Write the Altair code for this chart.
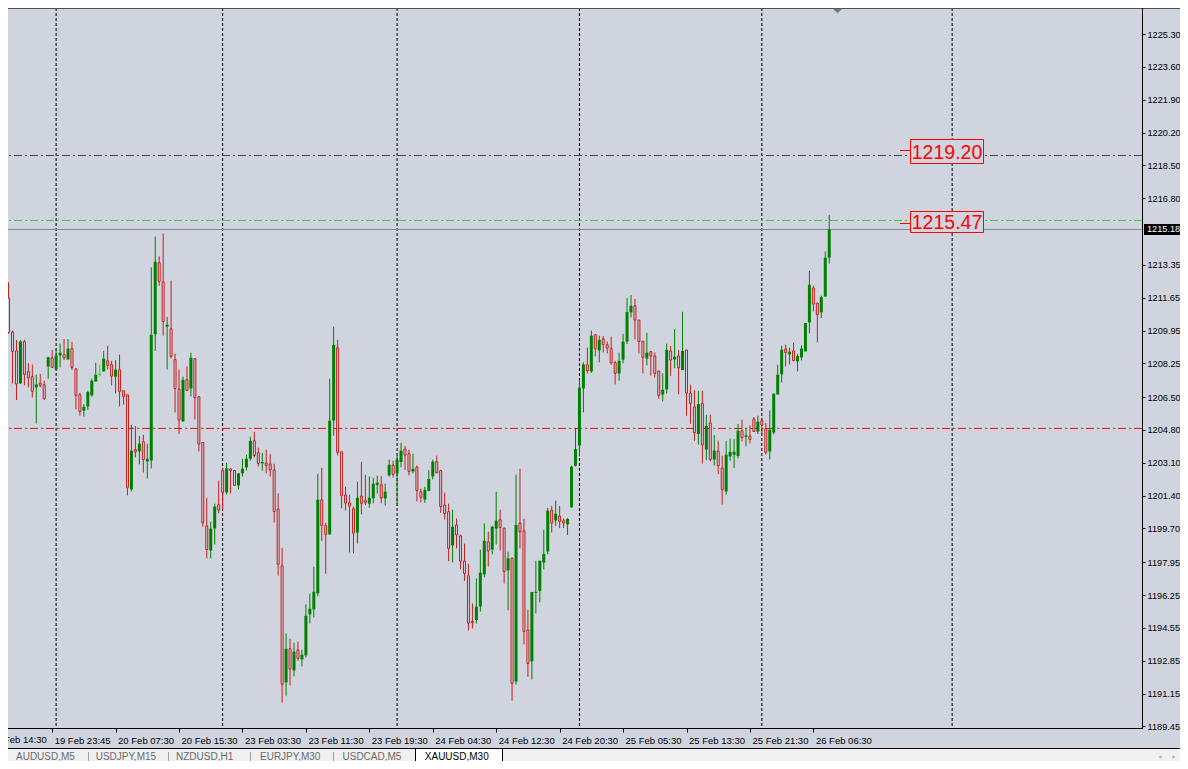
import altair as alt
import numpy as np
import pandas as pd

# ---------------- data (XAUUSD, M30) ----------------
first_bar = -1
opens = [1210.83, 1211.63, 1209.87, 1208.90, 1207.21, 1209.37, 1207.82, 1207.56, 1207.00, 1207.23,
         1207.14, 1208.09, 1208.54, 1207.93, 1208.66, 1208.70, 1208.45, 1209.01, 1207.97, 1206.62,
         1205.80, 1206.02, 1206.59, 1207.31, 1207.68, 1207.83, 1208.38, 1208.18, 1207.56, 1207.92,
         1206.83, 1206.62, 1201.72, 1203.78, 1203.69, 1204.19, 1203.17, 1203.22, 1209.75, 1213.46,
         1212.47, 1210.15, 1210.04, 1208.44, 1206.92, 1205.24, 1207.40, 1206.95, 1208.49, 1206.52,
         1204.15, 1199.83, 1198.56, 1199.70, 1200.93, 1202.69, 1201.57, 1202.78, 1202.70, 1201.93,
         1202.55, 1202.86, 1203.31, 1204.24, 1203.62, 1203.07, 1203.09, 1203.04, 1202.73, 1200.70,
         1197.77, 1191.73, 1193.47, 1192.35, 1193.41, 1192.92, 1193.13, 1195.25, 1195.51, 1196.34,
         1201.19, 1199.84, 1199.39, 1205.29, 1209.06, 1203.67, 1201.43, 1201.03, 1200.72, 1199.49,
         1201.38, 1201.14, 1200.98, 1201.26, 1201.96, 1201.96, 1201.26, 1202.45, 1202.98, 1202.55,
         1203.14, 1203.81, 1203.57, 1202.65, 1202.88, 1201.60, 1201.20, 1201.65, 1202.39, 1203.16,
         1202.69, 1200.91, 1200.57, 1198.82, 1199.88, 1199.32, 1198.01, 1197.25, 1194.89, 1194.96,
         1195.66, 1197.32, 1199.01, 1198.61, 1199.70, 1200.15, 1199.72, 1197.53, 1198.17, 1191.78,
         1199.98, 1199.57, 1194.44, 1192.82, 1196.37, 1196.47, 1197.93, 1198.51, 1200.65, 1200.12,
         1200.34, 1200.10, 1199.91, 1200.79, 1202.95, 1204.00, 1206.95, 1208.18, 1207.83, 1209.73,
         1208.92, 1209.52, 1209.21, 1209.01, 1208.29, 1207.73, 1208.44, 1209.38, 1210.89, 1211.23,
         1210.49, 1209.40, 1208.50, 1208.85, 1208.63, 1207.85, 1206.64, 1206.90, 1208.89, 1208.45,
         1208.63, 1207.90, 1208.94, 1206.71, 1206.00, 1204.59, 1206.16, 1203.79, 1205.16, 1203.27,
         1203.71, 1202.83, 1201.62, 1203.43, 1203.52, 1203.45, 1204.76, 1204.45, 1204.48, 1205.37,
         1204.72, 1205.28, 1204.86, 1203.69, 1204.67, 1206.64, 1207.68, 1208.99, 1208.71, 1208.89,
         1208.35, 1208.56, 1208.87, 1210.37, 1212.15, 1211.37, 1210.89, 1211.71, 1213.72]
highs = [1211.91, 1212.45, 1209.94, 1209.46, 1209.46, 1209.47, 1208.27, 1208.18, 1207.66, 1207.70,
         1207.35, 1208.59, 1208.94, 1209.01, 1209.27, 1209.51, 1209.51, 1209.37, 1207.97, 1206.73,
         1206.14, 1206.83, 1207.45, 1208.28, 1208.18, 1208.90, 1209.16, 1208.38, 1208.42, 1208.70,
         1206.83, 1206.62, 1205.07, 1205.00, 1204.50, 1204.55, 1204.09, 1213.22, 1214.82, 1213.79,
         1214.98, 1210.66, 1212.53, 1208.75, 1207.93, 1207.56, 1208.09, 1208.80, 1208.49, 1206.52,
         1204.15, 1201.29, 1200.05, 1200.98, 1202.17, 1202.84, 1203.10, 1202.81, 1202.70, 1202.55,
         1203.31, 1203.52, 1204.45, 1204.71, 1203.88, 1203.62, 1203.78, 1203.55, 1203.05, 1201.51,
         1198.70, 1194.27, 1193.99, 1193.78, 1193.84, 1193.42, 1195.77, 1196.32, 1197.72, 1202.53,
         1202.84, 1200.00, 1207.45, 1210.15, 1209.47, 1203.67, 1201.86, 1201.45, 1200.83, 1202.12,
         1203.14, 1202.48, 1202.39, 1202.33, 1202.43, 1202.41, 1202.02, 1203.26, 1203.21, 1203.47,
         1204.14, 1203.98, 1203.78, 1203.58, 1202.96, 1201.76, 1201.86, 1202.72, 1203.26, 1203.47,
         1202.74, 1201.55, 1200.98, 1200.67, 1200.22, 1199.39, 1198.91, 1197.87, 1195.82, 1197.11,
         1198.60, 1199.96, 1199.53, 1199.84, 1201.60, 1200.67, 1199.72, 1198.50, 1198.17, 1202.48,
         1202.79, 1200.20, 1195.49, 1196.41, 1198.03, 1198.03, 1199.63, 1200.76, 1200.87, 1201.14,
         1200.87, 1200.22, 1200.24, 1202.95, 1204.85, 1207.38, 1208.30, 1209.06, 1209.94, 1209.73,
         1209.68, 1209.66, 1209.38, 1209.63, 1208.38, 1208.80, 1209.78, 1211.63, 1211.79, 1211.59,
         1210.49, 1209.40, 1209.83, 1208.90, 1208.81, 1207.85, 1207.73, 1209.27, 1209.15, 1210.02,
         1208.94, 1210.92, 1208.94, 1207.14, 1206.87, 1206.83, 1206.83, 1205.59, 1205.59, 1204.54,
         1204.24, 1203.47, 1204.24, 1204.35, 1204.33, 1205.11, 1205.33, 1204.91, 1205.03, 1205.47,
         1205.54, 1205.43, 1205.17, 1205.81, 1206.68, 1208.18, 1209.16, 1209.21, 1209.06, 1209.32,
         1208.73, 1209.18, 1210.34, 1213.04, 1212.27, 1211.37, 1211.75, 1214.04, 1215.94]
lows = [1210.66, 1209.78, 1207.21, 1206.35, 1207.19, 1207.11, 1207.00, 1206.48, 1205.14, 1207.00,
        1206.40, 1207.45, 1208.04, 1207.93, 1208.04, 1208.42, 1208.45, 1207.90, 1205.86, 1205.54,
        1205.49, 1205.83, 1206.52, 1207.31, 1207.57, 1207.83, 1207.93, 1207.11, 1206.69, 1206.02,
        1206.12, 1201.41, 1201.62, 1203.38, 1203.02, 1202.60, 1202.29, 1202.81, 1208.89, 1212.27,
        1209.68, 1207.93, 1208.50, 1205.71, 1204.59, 1205.24, 1206.85, 1206.54, 1205.34, 1203.69,
        1199.79, 1198.15, 1198.15, 1198.87, 1200.48, 1200.69, 1201.46, 1201.51, 1201.93, 1201.72,
        1202.39, 1202.70, 1203.21, 1203.38, 1202.91, 1202.69, 1202.55, 1202.39, 1200.01, 1197.27,
        1190.68, 1191.04, 1191.57, 1192.04, 1192.85, 1192.56, 1193.02, 1194.78, 1195.09, 1196.18,
        1199.06, 1197.36, 1199.39, 1204.50, 1203.48, 1200.74, 1200.63, 1198.46, 1198.41, 1198.92,
        1200.43, 1200.91, 1200.77, 1201.00, 1201.51, 1201.00, 1200.89, 1202.39, 1202.34, 1200.89,
        1202.86, 1202.73, 1202.45, 1202.55, 1201.10, 1201.05, 1201.03, 1201.62, 1202.24, 1202.55,
        1200.51, 1200.17, 1198.00, 1197.94, 1198.67, 1197.58, 1196.99, 1194.42, 1194.52, 1194.78,
        1195.39, 1197.17, 1197.73, 1198.36, 1198.87, 1198.56, 1196.85, 1195.46, 1190.78, 1191.62,
        1198.67, 1193.70, 1192.02, 1191.88, 1195.30, 1195.87, 1197.58, 1198.36, 1199.49, 1199.84,
        1199.72, 1199.72, 1199.36, 1200.79, 1202.91, 1203.43, 1205.71, 1207.73, 1207.76, 1208.61,
        1208.30, 1208.81, 1208.76, 1208.18, 1207.16, 1207.35, 1208.25, 1209.25, 1210.63, 1209.49,
        1208.76, 1207.73, 1208.14, 1207.62, 1207.52, 1206.42, 1206.28, 1206.69, 1207.61, 1207.99,
        1206.64, 1207.90, 1205.54, 1205.12, 1204.24, 1204.05, 1203.07, 1203.24, 1203.17, 1202.96,
        1202.52, 1200.94, 1201.45, 1203.21, 1202.83, 1203.33, 1204.21, 1203.95, 1204.10, 1204.72,
        1204.59, 1204.59, 1203.53, 1203.27, 1204.57, 1206.64, 1207.26, 1208.09, 1208.19, 1208.35,
        1207.83, 1208.40, 1208.87, 1209.80, 1210.94, 1209.33, 1210.59, 1211.71, 1213.42]
closes = [1211.70, 1209.86, 1208.87, 1207.18, 1209.38, 1207.68, 1207.49, 1206.80, 1207.16, 1207.11,
          1206.40, 1208.56, 1208.04, 1208.64, 1208.80, 1208.54, 1209.01, 1208.04, 1206.59, 1205.76,
          1206.00, 1206.76, 1207.35, 1207.66, 1207.68, 1208.49, 1208.14, 1207.59, 1207.92, 1206.80,
          1206.54, 1201.83, 1203.73, 1203.67, 1204.09, 1203.27, 1203.31, 1209.73, 1213.51, 1212.49,
          1210.42, 1210.25, 1208.61, 1206.95, 1205.31, 1207.40, 1206.85, 1208.54, 1206.48, 1204.07,
          1200.00, 1198.61, 1199.69, 1200.83, 1200.65, 1201.57, 1202.81, 1202.70, 1201.93, 1202.55,
          1202.79, 1203.31, 1204.24, 1203.48, 1203.07, 1203.14, 1202.96, 1202.73, 1200.58, 1197.84,
          1191.63, 1193.47, 1192.42, 1193.32, 1192.97, 1193.16, 1195.18, 1195.54, 1196.42, 1201.19,
          1199.86, 1199.39, 1205.28, 1209.21, 1203.64, 1201.41, 1201.02, 1200.86, 1199.46, 1201.29,
          1201.00, 1201.05, 1201.29, 1202.02, 1202.07, 1201.28, 1201.60, 1203.00, 1202.50, 1203.26,
          1203.73, 1203.50, 1202.65, 1202.79, 1201.67, 1201.31, 1201.70, 1202.26, 1203.16, 1202.59,
          1200.84, 1200.48, 1198.67, 1199.79, 1199.36, 1198.01, 1197.37, 1194.80, 1194.82, 1195.65,
          1197.41, 1199.06, 1198.53, 1199.79, 1200.10, 1199.75, 1197.47, 1198.15, 1191.68, 1199.88,
          1199.52, 1194.37, 1192.71, 1196.41, 1196.42, 1198.03, 1198.38, 1200.62, 1199.98, 1200.46,
          1200.06, 1199.98, 1200.19, 1202.90, 1203.81, 1206.99, 1208.19, 1207.87, 1209.68, 1209.02,
          1209.46, 1209.23, 1209.04, 1208.27, 1207.73, 1208.38, 1209.37, 1210.91, 1211.23, 1210.49,
          1209.38, 1208.56, 1208.80, 1208.63, 1207.73, 1206.59, 1206.88, 1208.95, 1208.42, 1208.59,
          1208.01, 1208.89, 1206.71, 1206.17, 1204.67, 1206.14, 1204.02, 1205.00, 1203.27, 1203.73,
          1202.96, 1201.72, 1203.52, 1203.67, 1203.67, 1204.76, 1204.41, 1204.52, 1204.31, 1204.72,
          1205.23, 1205.06, 1203.64, 1204.81, 1206.68, 1207.66, 1208.95, 1208.81, 1208.85, 1208.40,
          1208.63, 1209.01, 1210.34, 1212.32, 1211.32, 1210.78, 1211.68, 1213.72, 1215.18]
bar_index = list(range(first_bar, first_bar + len(opens)))

time_ticks = [-5, 11, 27, 43, 59, 75, 91, 107, 123, 139, 155, 171, 187, 203]
time_labels = ["19 Feb 14:30", "19 Feb 23:45", "20 Feb 07:30", "20 Feb 15:30", "23 Feb 03:30",
               "23 Feb 11:30", "23 Feb 19:30", "24 Feb 04:30", "24 Feb 12:30", "24 Feb 20:30",
               "25 Feb 05:30", "25 Feb 13:30", "25 Feb 21:30", "26 Feb 06:30"]
price_ticks = [1225.30, 1223.60, 1221.90, 1220.20, 1218.50, 1216.80, 1213.35, 1211.65, 1209.95,
               1208.25, 1206.50, 1204.80, 1203.10, 1201.40, 1199.70, 1197.95, 1196.25, 1194.55,
               1192.85, 1191.15, 1189.45]
day_separators = [12, 54, 98, 144, 190, 238]
bid_price = 1215.18
level_names = ["upper", "green", "red"]
level_prices = [1219.01, 1215.65, 1204.88]
price_label_texts = ["1219.20", "1215.47"]
tab_names = ["AUDUSD,M5", "USDJPY,M15", "NZDUSD,H1", "EURJPY,M30", "USDCAD,M5", "XAUUSD,M30"]
active_tab_name = "XAUUSD,M30"

# ---------------- styling / layout ----------------
BG = "#D0D4DE"
UP = "#008000"
DOWN = "#C41E1E"
DOJI = "#22E022"
RED = "#FF0000"
FONT = "Liberation Sans"
PLOT_W, PLOT_H = 1134, 720
TOTAL_W, TOTAL_H = 1172, 753
X_MIN = 1.125

df = pd.DataFrame({"k": bar_index, "o": opens, "h": highs, "l": lows, "c": closes})
df["dir"] = np.where(df.c > df.o, "up", np.where(df.c < df.o, "down", "doji"))

xs = alt.Scale(domain=[X_MIN, 284.625], nice=False, zero=False)
ys = alt.Scale(domain=[1189.368, 1226.649], nice=False, zero=False)

label_expr = ("[" + ",".join(f"'{s}'" for s in time_labels) + "][indexof(["
              + ",".join(str(v) for v in time_ticks) + "], datum.value)]")

x_axis = alt.Axis(values=time_ticks, labelExpr=label_expr, title=None, grid=False, domain=False,
                  ticks=True, tickSize=4, tickColor="black", labelFont=FONT, labelFontSize=9.5,
                  labelColor="black", labelAlign="left", labelBaseline="middle", labelPadding=8,
                  labelOffset=2, labelFlush=False, labelOverlap=False, orient="bottom")
y_axis = alt.Axis(values=price_ticks, format=".2f", title=None, grid=False, domain=False,
                  tickSize=3, tickColor="black", labelFont=FONT, labelFontSize=9.2,
                  labelColor="black", labelAlign="left", labelBaseline="middle", labelPadding=2,
                  labelOverlap=False, labelFlush=False, orient="right")


def X(field):
    return alt.X(field, scale=xs, axis=x_axis)


def Y(field):
    return alt.Y(field, scale=ys, axis=y_axis)


base = alt.Chart(df)
one = pd.DataFrame({"a": [0]})

grid = alt.Chart(pd.DataFrame({"k": day_separators})).mark_rule(
    color="black", strokeWidth=1, strokeDash=[3, 2]
).encode(x=X("k:Q"))

levels = alt.Chart(pd.DataFrame({"p": level_prices, "name": level_names})).mark_rule(
    strokeWidth=1, strokeDash=[8, 3, 2, 3]
).encode(
    y=Y("p:Q"),
    color=alt.Color("name:N", scale=alt.Scale(domain=level_names,
                                              range=["#4A4048", "#32CD32", RED]), legend=None),
)

bid_line = alt.Chart(pd.DataFrame({"p": [bid_price]})).mark_rule(
    color="#7E8894", strokeWidth=1
).encode(y=Y("p:Q"), x=alt.value(0), x2=alt.value(1136))

wicks = base.mark_rule(strokeWidth=1, clip=True).encode(
    x=X("k:Q"), y=Y("l:Q"), y2="h:Q",
    color=alt.Color("dir:N", scale=alt.Scale(domain=["up", "down", "doji"], range=[UP, DOWN, DOJI]),
                    legend=None),
)

bull = base.transform_filter("datum.dir == 'up'").mark_bar(width=3, color=UP, clip=True).encode(
    x=X("k:Q"), y=Y("o:Q"), y2="c:Q")

bear = base.transform_filter("datum.dir == 'down'").mark_bar(
    width=2, fill=BG, stroke=DOWN, strokeWidth=1, clip=True
).encode(x=X("k:Q"), y=Y("o:Q"), y2="c:Q")

doji = base.transform_filter("datum.dir == 'doji'").transform_calculate(
    xa="datum.k - 0.375", xb="datum.k + 0.375"
).mark_rule(color=DOJI, strokeWidth=1, clip=True).encode(
    x=X("xa:Q"), x2="xb:Q", y=Y("c:Q"))

# plot frame: top, right and bottom edges (the left edge runs off the window)
frame = [
    alt.Chart(one).mark_rule(color="#505050", strokeWidth=1).encode(
        x=alt.value(0), x2=alt.value(TOTAL_W), y=alt.value(0.5)),
    alt.Chart(one).mark_rule(color="black", strokeWidth=1).encode(
        x=alt.value(PLOT_W + 0.5), y=alt.value(0), y2=alt.value(PLOT_H + 1)),
    alt.Chart(one).mark_rule(color="black", strokeWidth=1).encode(
        x=alt.value(0), x2=alt.value(PLOT_W + 1), y=alt.value(PLOT_H + 0.5)),
]

# first (partly hidden) time label left of the visible range
pre = pd.DataFrame({"k": [t for t in time_ticks if t < X_MIN],
                    "t": [s for t, s in zip(time_ticks, time_labels) if t < X_MIN]})
pre_label = alt.Chart(pre).mark_text(font=FONT, fontSize=9.5, color="black", align="left",
                                     baseline="middle", dx=2).encode(
    x=X("k:Q"), y=alt.value(PLOT_H + 12), text="t:N")

# price labels (boxed) placed on the chart
label_boxes = [(131.5, 155.5, 143.5, 142.5), (203.5, 224.5, 214.0, 215.5)]
label_layers = []
for txt, (b1, b2, bc, lead) in zip(price_label_texts, label_boxes):
    d = alt.Chart(pd.DataFrame({"t": [txt]}))
    label_layers += [
        d.mark_rule(color=RED, strokeWidth=1).encode(x=alt.value(892), x2=alt.value(902.5),
                                                     y=alt.value(lead)),
        d.mark_rect(fill=BG, stroke=RED, strokeWidth=1).encode(
            x=alt.value(902.5), x2=alt.value(975.5), y=alt.value(b1), y2=alt.value(b2)),
        d.mark_text(font=FONT, fontSize=19.5, color=RED, align="center", baseline="middle",
                    dy=1).encode(x=alt.value(939), y=alt.value(bc), text="t:N"),
    ]

# bid price tag on the price axis
bid_df = pd.DataFrame({"p": [bid_price]})
bid_tag = alt.Chart(bid_df).mark_rule(color="black", strokeWidth=11).encode(
    y=Y("p:Q"), x=alt.value(1136), x2=alt.value(1172))
bid_text = alt.Chart(bid_df).mark_text(
    font=FONT, fontSize=9.2, color="white", align="left", baseline="middle"
).encode(y=Y("p:Q"), x=alt.value(1139), text=alt.Text("p:Q", format=".2f"))

# chart-shift marker at the top
marker = alt.Chart(one).mark_point(
    shape="M -1 -0.5 L 1 -0.5 L 0 0.5 Z", filled=True, size=90, color="#6F7C8C", opacity=1,
    strokeWidth=0
).encode(x=alt.value(829.5), y=alt.value(3))

# symbol tab strip at the bottom
strip = alt.Chart(one).mark_rect(fill="#F0F0F0").encode(
    x=alt.value(0), x2=alt.value(TOTAL_W), y=alt.value(740), y2=alt.value(TOTAL_H))
strip_line = alt.Chart(one).mark_rule(color="black", strokeWidth=1).encode(
    x=alt.value(0), x2=alt.value(TOTAL_W), y=alt.value(740.5))
active_tab = alt.Chart(one).mark_rect(fill="white", stroke="black", strokeWidth=1).encode(
    x=alt.value(407.5), x2=alt.value(494.5), y=alt.value(740.5), y2=alt.value(762))
tab_text_x = [8, 87.7, 168, 252, 334.5, 416.8]
tab_layers = []
for name, tx in zip(tab_names, tab_text_x):
    tab_layers.append(
        alt.Chart(pd.DataFrame({"t": [name]})).mark_text(
            font=FONT, fontSize=10, align="left", baseline="middle",
            color="black" if name == active_tab_name else "#6A6A6A"
        ).encode(x=alt.value(tx), y=alt.value(748.5), text="t:N"))
for sx in [80.5, 160.5, 242.5, 325.5]:
    tab_layers.append(alt.Chart(one).mark_rule(color="#A0A0A0", strokeWidth=1).encode(
        x=alt.value(sx), y=alt.value(744), y2=alt.value(753)))
for ax_, shp in [(1152, "triangle-left"), (1166, "triangle-right")]:
    tab_layers.append(alt.Chart(one).mark_point(
        shape=shp, filled=True, size=14, color="#B0B0B0", opacity=1, strokeWidth=0
    ).encode(x=alt.value(ax_), y=alt.value(749)))

chart = alt.layer(
    grid, levels, bid_line, wicks, bull, bear, doji, *frame, pre_label,
    *label_layers, bid_tag, bid_text, marker,
    strip, strip_line, active_tab, *tab_layers,
).resolve_scale(color="independent").properties(
    width=PLOT_W, height=PLOT_H,
    autosize=alt.AutoSizeParams(type="none"),
    padding={"left": 0, "top": 0, "right": TOTAL_W - PLOT_W, "bottom": TOTAL_H - PLOT_H},
    background=BG,
).configure_view(strokeWidth=0, fill=BG)

chart.save("out.html", embed_options={"renderer": "svg", "actions": False})
